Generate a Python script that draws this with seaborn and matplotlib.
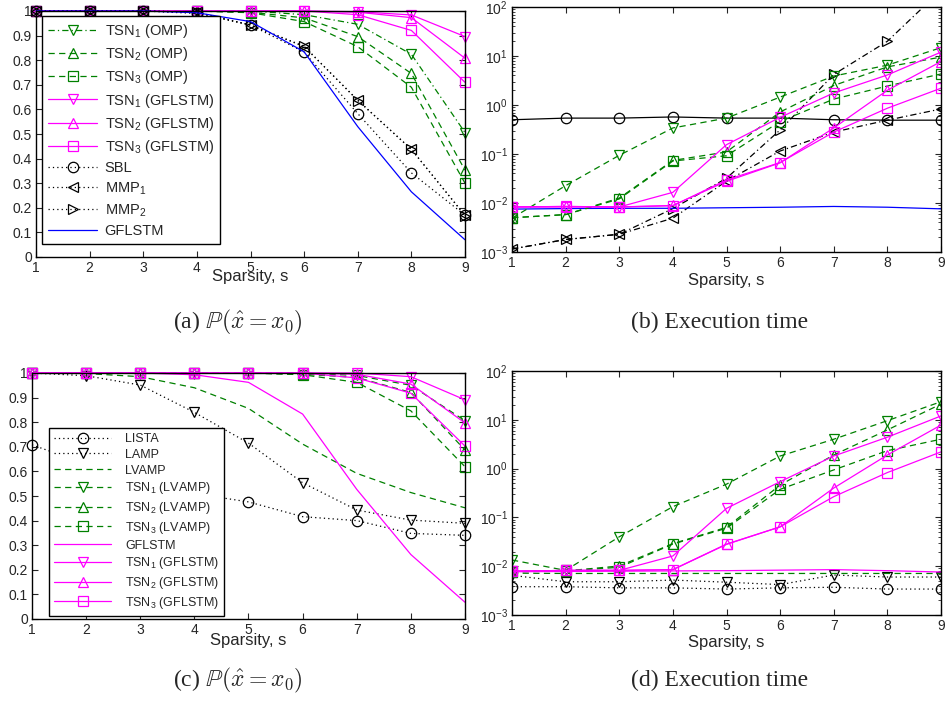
import numpy as np
import pandas as pd
import matplotlib
matplotlib.use("Agg")
import matplotlib.pyplot as plt
import seaborn as sns
from matplotlib.ticker import LogLocator, NullFormatter

# ---------------- data ----------------
sparsity = [1, 2, 3, 4, 5, 6, 7, 8, 9]
prob_ticks = [0, 0.1, 0.2, 0.3, 0.4, 0.5, 0.6, 0.7, 0.8, 0.9, 1.0]
prob_tick_labels = ["0", "0.1", "0.2", "0.3", "0.4", "0.5", "0.6", "0.7", "0.8", "0.9", "1"]

# (a) success probability
a_tsn1_omp = [1, 1, 1, 1, 1, 0.985, 0.946, 0.824, 0.506]
a_tsn2_omp = [1, 1, 1, 1, 0.995, 0.972, 0.896, 0.746, 0.353]
a_tsn3_omp = [1, 1, 1, 1, 0.993, 0.957, 0.855, 0.690, 0.300]
a_tsn1_gf = [1, 1, 1, 1, 1, 1, 0.997, 0.984, 0.896]
a_tsn2_gf = [1, 1, 1, 1, 1, 1, 0.995, 0.973, 0.808]
a_tsn3_gf = [1, 1, 1, 1, 1, 1, 0.985, 0.921, 0.710]
a_sbl = [1, 1, 1, 0.990, 0.943, 0.833, 0.583, 0.342, 0.170]
a_mmp1 = [1, 1, 1, 0.995, 0.943, 0.855, 0.638, 0.437, 0.170]
a_mmp2 = [1, 1, 1, 0.995, 0.943, 0.857, 0.636, 0.438, 0.168]
a_gflstm = [1, 1, 1, 0.993, 0.957, 0.834, 0.530, 0.265, 0.070]

# (b) execution time
b_tsn1_omp = [0.0049, 0.0226, 0.094, 0.34, 0.54, 1.45, 3.9, 6.5, 14.8]
b_tsn2_omp = [0.0050, 0.0058, 0.0126, 0.074, 0.110, 0.72, 2.5, 6.0, 9.5]
b_tsn3_omp = [0.0050, 0.0058, 0.0121, 0.072, 0.092, 0.46, 1.32, 2.44, 4.3]
b_tsn1_gf = [0.0083, 0.0085, 0.0083, 0.0165, 0.155, 0.56, 1.76, 4.1, 12.0]
b_tsn2_gf = [0.0083, 0.0085, 0.0083, 0.0089, 0.0277, 0.066, 0.34, 2.0, 7.7]
b_tsn3_gf = [0.0083, 0.0083, 0.0083, 0.0088, 0.0295, 0.067, 0.28, 0.86, 2.2]
b_sbl = [0.50, 0.54, 0.54, 0.57, 0.54, 0.54, 0.50, 0.49, 0.49]
b_mmp1 = [0.00115, 0.0018, 0.0023, 0.0049, 0.028, 0.115, 0.28, 0.49, 0.83]
b_mmp2 = [0.00115, 0.0018, 0.0023, 0.0077, 0.032, 0.31, 4.2, 20.0, 220.0]
b_gflstm = [0.0075, 0.0077, 0.0078, 0.0078, 0.0080, 0.0082, 0.0085, 0.0082, 0.0076]

# (c) success probability
c_lista = [0.708, 0.63, 0.56, 0.51, 0.476, 0.416, 0.400, 0.348, 0.340]
c_lamp = [1, 0.989, 0.951, 0.840, 0.715, 0.554, 0.443, 0.402, 0.389]
c_lvamp = [1, 0.998, 0.985, 0.940, 0.856, 0.711, 0.592, 0.514, 0.452]
c_tsn1_lv = [1, 1, 1, 1, 1, 1, 0.990, 0.950, 0.806]
c_tsn2_lv = [1, 1, 1, 1, 1, 0.995, 0.982, 0.921, 0.687]
c_tsn3_lv = [1, 1, 1, 1, 1, 0.993, 0.962, 0.846, 0.619]
c_gflstm = [1, 1, 1, 0.993, 0.962, 0.833, 0.527, 0.262, 0.068]
c_tsn1_gf = [1, 1, 1, 1, 1, 1, 1, 0.985, 0.891]
c_tsn2_gf = [1, 1, 1, 1, 1, 1, 0.995, 0.955, 0.797]
c_tsn3_gf = [1, 1, 1, 1, 1, 1, 0.980, 0.918, 0.703]

# (d) execution time
d_lista = [0.0038, 0.0038, 0.0036, 0.0036, 0.0034, 0.0036, 0.0037, 0.0034, 0.0034]
d_lamp = [0.0065, 0.0048, 0.0048, 0.0052, 0.0047, 0.0042, 0.0066, 0.0060, 0.0060]
d_lvamp = [0.0072, 0.0071, 0.0071, 0.0071, 0.0071, 0.0071, 0.0071, 0.0071, 0.0071]
d_tsn1_lv = [0.0134, 0.0082, 0.040, 0.166, 0.48, 1.81, 4.0, 9.6, 23.5]
d_tsn2_lv = [0.0077, 0.0080, 0.0101, 0.029, 0.0625, 0.46, 1.9, 6.2, 21.0]
d_tsn3_lv = [0.0077, 0.0080, 0.0095, 0.0284, 0.060, 0.376, 0.94, 2.33, 4.0]
d_gflstm = [0.0077, 0.0078, 0.0079, 0.0080, 0.0081, 0.0083, 0.0085, 0.0081, 0.0076]
d_tsn1_gf = [0.0079, 0.0082, 0.0082, 0.0162, 0.153, 0.54, 1.81, 4.4, 12.0]
d_tsn2_gf = [0.0079, 0.0082, 0.0082, 0.0085, 0.0284, 0.064, 0.40, 1.9, 7.8]
d_tsn3_gf = [0.0079, 0.0082, 0.0082, 0.0085, 0.028, 0.064, 0.266, 0.83, 2.2]

captions = [r"(a) $\mathbb{P}(\hat{x} = x_0)$", "(b) Execution time",
            r"(c) $\mathbb{P}(\hat{x} = x_0)$", "(d) Execution time"]
xlabel_text = "Sparsity, s"

# ---------------- style ----------------
sns.set_style("ticks")
plt.rcParams["font.family"] = ["Liberation Sans", "DejaVu Sans"]
plt.rcParams["mathtext.fontset"] = "custom"
plt.rcParams["mathtext.rm"] = "Liberation Sans"
plt.rcParams["mathtext.it"] = "Liberation Sans:italic"
plt.rcParams["mathtext.bf"] = "Liberation Sans:bold"

GREEN = "#008000"
MAG = "#ff00ff"
BLUE = "#0000ff"
BLACK = "#000000"
DASH = (0, (5, 3.5))
DOT = (0, (1, 2.5))
DASHDOT = (0, (5, 2.5, 1, 2.5))
SOLID = "-"

fig = plt.figure(figsize=(9.48, 7.02), dpi=100)
W, H = 948.0, 702.0


def make_ax(left, right, top, bottom):
    return fig.add_axes([left / W, 1 - bottom / H, (right - left) / W, (bottom - top) / H])


ax_a = make_ax(36, 465, 11, 257)
ax_b = make_ax(512, 941, 7, 252)
ax_c = make_ax(32, 465, 373, 619)
ax_d = make_ax(512, 941, 371, 615)


def draw(ax, y, color, ls, marker=None, label=None):
    kw = dict(x=sparsity, y=y, ax=ax, color=color, linestyle=ls, linewidth=0.9,
              errorbar=None, legend=False, sort=False)
    if label is not None:
        kw["label"] = label
    if marker is not None:
        kw.update(marker=marker, markersize=7.5, markerfacecolor="none",
                  markeredgecolor=color, markeredgewidth=0.9)
    sns.lineplot(**kw)


# (a)
draw(ax_a, a_tsn1_omp, GREEN, DASHDOT, "v", r"TSN$_1$ (OMP)")
draw(ax_a, a_tsn2_omp, GREEN, DASH, "^", r"TSN$_2$ (OMP)")
draw(ax_a, a_tsn3_omp, GREEN, DASH, "s", r"TSN$_3$ (OMP)")
draw(ax_a, a_tsn1_gf, MAG, SOLID, "v", r"TSN$_1$ (GFLSTM)")
draw(ax_a, a_tsn2_gf, MAG, SOLID, "^", r"TSN$_2$ (GFLSTM)")
draw(ax_a, a_tsn3_gf, MAG, SOLID, "s", r"TSN$_3$ (GFLSTM)")
draw(ax_a, a_sbl, BLACK, DOT, "o", "SBL")
draw(ax_a, a_mmp1, BLACK, DOT, "<", r"MMP$_1$")
draw(ax_a, a_mmp2, BLACK, DOT, ">", r"MMP$_2$")
draw(ax_a, a_gflstm, BLUE, SOLID, None, "GFLSTM")

# (b)
draw(ax_b, b_sbl, BLACK, SOLID, "o")
draw(ax_b, b_mmp1, BLACK, DASHDOT, "<")
draw(ax_b, b_mmp2, BLACK, DASHDOT, ">")
draw(ax_b, b_gflstm, BLUE, SOLID, None)
draw(ax_b, b_tsn1_omp, GREEN, DASH, "v")
draw(ax_b, b_tsn2_omp, GREEN, DASH, "^")
draw(ax_b, b_tsn3_omp, GREEN, DASH, "s")
draw(ax_b, b_tsn1_gf, MAG, SOLID, "v")
draw(ax_b, b_tsn2_gf, MAG, SOLID, "^")
draw(ax_b, b_tsn3_gf, MAG, SOLID, "s")

# (c)
draw(ax_c, c_lista, BLACK, DOT, "o", "LISTA")
draw(ax_c, c_lamp, BLACK, DOT, "v", "LAMP")
draw(ax_c, c_lvamp, GREEN, DASH, None, "LVAMP")
draw(ax_c, c_tsn1_lv, GREEN, DASH, "v", r"TSN$_1$ (LVAMP)")
draw(ax_c, c_tsn2_lv, GREEN, DASH, "^", r"TSN$_2$ (LVAMP)")
draw(ax_c, c_tsn3_lv, GREEN, DASH, "s", r"TSN$_3$ (LVAMP)")
draw(ax_c, c_gflstm, MAG, SOLID, None, "GFLSTM")
draw(ax_c, c_tsn1_gf, MAG, SOLID, "v", r"TSN$_1$ (GFLSTM)")
draw(ax_c, c_tsn2_gf, MAG, SOLID, "^", r"TSN$_2$ (GFLSTM)")
draw(ax_c, c_tsn3_gf, MAG, SOLID, "s", r"TSN$_3$ (GFLSTM)")

# (d)
draw(ax_d, d_lista, BLACK, DOT, "o")
draw(ax_d, d_lamp, BLACK, DOT, "v")
draw(ax_d, d_lvamp, GREEN, DASH, None)
draw(ax_d, d_tsn1_lv, GREEN, DASH, "v")
draw(ax_d, d_tsn2_lv, GREEN, DASH, "^")
draw(ax_d, d_tsn3_lv, GREEN, DASH, "s")
draw(ax_d, d_gflstm, MAG, SOLID, None)
draw(ax_d, d_tsn1_gf, MAG, SOLID, "v")
draw(ax_d, d_tsn2_gf, MAG, SOLID, "^")
draw(ax_d, d_tsn3_gf, MAG, SOLID, "s")

# markers at y = 1 are not clipped (as in the original)
for ax in (ax_a, ax_c):
    for ln in ax.lines:
        ln.set_clip_on(False)

TICK_FS = 10


def style_common(ax):
    ax.set_xlim(1, 9)
    ax.set_xticks(sparsity)
    ax.set_xticklabels([str(v) for v in sparsity])
    ax.set_ylabel("")
    ax.set_xlabel(xlabel_text, fontsize=12)
    ax.tick_params(which="major", direction="in", length=4, width=0.8,
                   top=True, right=True, labelsize=TICK_FS, pad=3)
    ax.tick_params(which="minor", direction="in", length=2, width=0.6,
                   top=False, right=True, left=True)
    for s in ax.spines.values():
        s.set_visible(True)
        s.set_linewidth(1.0)
        s.set_color("black")
    ax.set_facecolor("white")


for ax in (ax_a, ax_c):
    style_common(ax)
    ax.set_ylim(0, 1)
    ax.set_yticks(prob_ticks)
    ax.set_yticklabels(prob_tick_labels)

for ax in (ax_b, ax_d):
    style_common(ax)
    ax.set_yscale("log")
    ax.set_ylim(1e-3, 1e2)
    ax.yaxis.set_major_locator(LogLocator(base=10, numticks=10))
    ax.yaxis.set_minor_locator(LogLocator(base=10, subs=np.arange(2, 10), numticks=20))
    ax.yaxis.set_minor_formatter(NullFormatter())

ax_a.xaxis.set_label_coords(0.5, -0.05)
ax_b.xaxis.set_label_coords(0.5, -0.085)
ax_c.xaxis.set_label_coords(0.5, -0.055)
ax_d.xaxis.set_label_coords(0.5, -0.08)

# legends
leg_a = ax_a.legend(loc="upper left", bbox_to_anchor=(0.014, 0.98), borderaxespad=0,
                    fontsize=10.5, frameon=True, fancybox=False, framealpha=1,
                    edgecolor="black", handlelength=3.4, handletextpad=0.5,
                    labelspacing=0.36, borderpad=0.4, numpoints=1)
leg_a.get_frame().set_linewidth(1.0)

leg_c = ax_c.legend(loc="upper left", bbox_to_anchor=(0.039, 0.776), borderaxespad=0,
                    fontsize=9, frameon=True, fancybox=False, framealpha=1,
                    edgecolor="black", handlelength=4.6, handletextpad=1.1,
                    labelspacing=0.3, borderpad=0.4, numpoints=1)
leg_c.get_frame().set_linewidth(1.0)

# captions
cap_pos = [(238, 322), (720, 322), (238, 680), (720, 680)]
for txt, (cx, cy) in zip(captions, cap_pos):
    fig.text(cx / W, 1 - cy / H, txt, ha="center", va="center", fontsize=17,
             family=["Liberation Serif", "DejaVu Serif"], math_fontfamily="cm")

fig.savefig("out.png", dpi=100, facecolor="white")
